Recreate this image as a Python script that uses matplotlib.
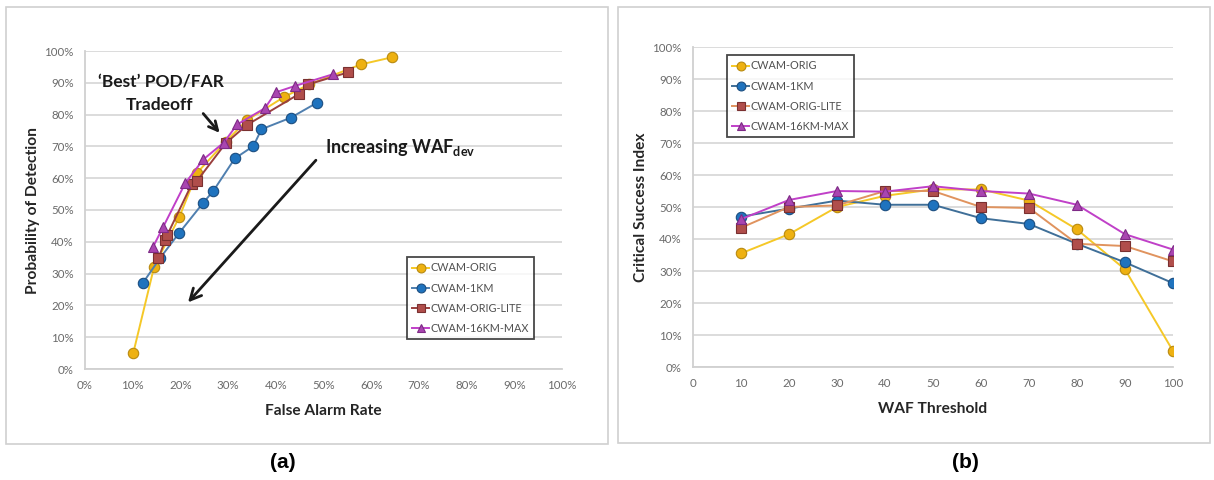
import matplotlib
matplotlib.use("Agg")
import matplotlib.pyplot as plt
from matplotlib.patches import Rectangle
from matplotlib.ticker import FuncFormatter

plt.rcParams['font.family'] = ['Lato', 'DejaVu Sans']

# ---- data -------------------------------------------------------------
series_names = ["CWAM-ORIG", "CWAM-1KM", "CWAM-ORIG-LITE", "CWAM-16KM-MAX"]

# (a) POD vs FAR, one point per WAF threshold (percent)
far_orig = [10.1, 14.5, 19.8, 23.5, 29.5, 34.0, 41.8, 47.0, 57.9, 64.3]
pod_orig = [4.9, 32.2, 47.9, 61.7, 71.5, 78.3, 85.6, 89.5, 95.8, 98.0]
far_1km = [12.2, 15.7, 19.7, 24.8, 26.9, 31.4, 35.3, 37.0, 43.1, 48.6]
pod_1km = [27.2, 34.8, 42.7, 52.3, 56.0, 66.2, 70.1, 75.4, 79.0, 83.7]
far_lite = [15.4, 16.8, 17.2, 22.4, 23.5, 29.5, 33.9, 44.9, 46.8, 55.2]
pod_lite = [34.8, 40.5, 42.0, 58.2, 59.2, 71.0, 76.7, 86.5, 89.5, 93.3]
far_16km = [14.3, 16.4, 21.0, 24.8, 29.1, 31.9, 37.7, 40.0, 44.0, 52.0]
pod_16km = [38.5, 44.7, 58.4, 65.9, 71.2, 76.9, 82.0, 87.0, 89.0, 92.7]

# (b) CSI vs WAF threshold (percent)
waf_threshold = [10, 20, 30, 40, 50, 60, 70, 80, 90, 100]
csi_orig = [35.5, 41.5, 50.0, 53.5, 55.5, 55.5, 52.0, 43.0, 30.5, 5.0]
csi_1km = [47.0, 49.5, 52.0, 50.7, 50.7, 46.5, 44.7, 38.5, 32.7, 26.2]
csi_lite = [43.5, 50.0, 50.5, 55.0, 55.0, 50.0, 49.7, 38.5, 37.8, 33.0]
csi_16km = [46.2, 52.2, 55.0, 54.8, 56.5, 55.0, 54.2, 50.7, 41.5, 36.7]

pct_ticks = list(range(0, 101, 10))

# ---- styles -----------------------------------------------------------
W, H = 1214, 480
styles = {
    "CWAM-ORIG":      dict(color="#F5C827", marker="o", mfc="#EEB111", mec="#B88A10", ms=7.5),
    "CWAM-1KM":       dict(color="#4F7FAF", marker="o", mfc="#1F73BE", mec="#1C4E80", ms=7.5),
    "CWAM-ORIG-LITE": dict(color="#A24A48", marker="s", mfc="#B04E4B", mec="#7A3030", ms=6.5),
    "CWAM-16KM-MAX":  dict(color="#C040C8", marker="^", mfc="#A945B0", mec="#7E2A86", ms=6.5),
}

fig = plt.figure(figsize=(W / 100, H / 100), dpi=100)
fig.patch.set_facecolor("white")


def px_axes(left, top, right, bottom):
    return fig.add_axes([left / W, 1 - bottom / H, (right - left) / W, (bottom - top) / H])


# panel frames
for (x0, y0, x1, y1) in [(6, 7, 608, 444), (618, 7, 1210, 443)]:
    fig.patches.append(Rectangle((x0 / W, 1 - y1 / H), (x1 - x0) / W, (y1 - y0) / H,
                                 transform=fig.transFigure, fill=False,
                                 edgecolor="#D0D0D0", linewidth=1.2))

tick_color = "#6A6A6A"
grid_color = "#D9D9D9"


def style_axes(ax):
    ax.set_facecolor("white")
    for s in ["top", "right"]:
        ax.spines[s].set_visible(False)
    for s in ["left", "bottom"]:
        ax.spines[s].set_color("#D0D0D0")
        ax.spines[s].set_linewidth(1.3)
    ax.grid(axis="y", color=grid_color, linewidth=1.3)
    ax.set_axisbelow(True)
    ax.tick_params(length=0, labelsize=8.3, colors=tick_color, pad=8)
    ax.set_ylim(0, 100)
    ax.set_yticks(pct_ticks)
    ax.yaxis.set_major_formatter(FuncFormatter(lambda v, p: f"{int(v)}%"))


def plot_series(ax, xs, ys, name, line_color=None):
    st = dict(styles[name])
    if line_color:
        st["color"] = line_color
    ax.plot(xs, ys, color=st["color"], lw=1.4, marker=st["marker"], ms=st["ms"],
            mfc=st["mfc"], mec=st["mec"], mew=0.8, label=name)


def add_legend(ax, loc, anchor):
    leg = ax.legend(loc=loc, bbox_to_anchor=anchor, fontsize=7.8, frameon=True,
                    fancybox=False, edgecolor="#1A1A1A", handlelength=1.5,
                    handletextpad=0.15, labelspacing=0.85, borderpad=0.5,
                    borderaxespad=0, markerscale=0.85)
    leg.get_frame().set_linewidth(1.3)
    for t in leg.get_texts():
        t.set_color("#505050")


label_kw = dict(fontsize=11.2, fontweight="bold", color="#262626")

# ---- (a) ---------------------------------------------------------------
ax1 = px_axes(85, 51, 562, 369)
style_axes(ax1)
ax1.set_xlim(0, 100)
ax1.set_xticks(pct_ticks)
ax1.xaxis.set_major_formatter(FuncFormatter(lambda v, p: f"{int(v)}%"))
plot_series(ax1, far_orig, pod_orig, "CWAM-ORIG")
plot_series(ax1, far_1km, pod_1km, "CWAM-1KM")
plot_series(ax1, far_lite, pod_lite, "CWAM-ORIG-LITE", line_color="#9A3F3D")
plot_series(ax1, far_16km, pod_16km, "CWAM-16KM-MAX")
ax1.set_xlabel("False Alarm Rate", labelpad=9, **label_kw)
ax1.set_ylabel("Probability of Detection", labelpad=3, **label_kw)
add_legend(ax1, "upper left", ((407 - 85) / (562 - 85), (369 - 257) / (369 - 51)))

ax1.text(15.9, 90.4, "\u2018Best\u2019 POD/FAR", fontsize=12.5, fontweight="bold",
         color="#1A1A1A", ha="center", va="center")
ax1.text(15.7, 83.0, "Tradeoff", fontsize=12.5, fontweight="bold",
         color="#1A1A1A", ha="center", va="center")
ax1.annotate("", xy=(28.6, 73.6), xytext=(24.4, 81.0),
             arrowprops=dict(arrowstyle="->", color="#1A1A1A", lw=2.0,
                             mutation_scale=16))
ax1.text(50.3, 69.8, r"Increasing WAF$_{\mathregular{dev}}$", fontsize=13,
         fontweight="bold", color="#1A1A1A", ha="left", va="center")
ax1.annotate("", xy=(21.2, 20.3), xytext=(48.8, 66.3),
             arrowprops=dict(arrowstyle="->", color="#1A1A1A", lw=2.0,
                             mutation_scale=20))

# ---- (b) ---------------------------------------------------------------
ax2 = px_axes(693, 47, 1173, 367)
style_axes(ax2)
ax2.set_xlim(0, 100)
ax2.set_xticks(pct_ticks)
plot_series(ax2, waf_threshold, csi_orig, "CWAM-ORIG")
plot_series(ax2, waf_threshold, csi_1km, "CWAM-1KM", line_color="#3F6F98")
plot_series(ax2, waf_threshold, csi_lite, "CWAM-ORIG-LITE", line_color="#E0935E")
plot_series(ax2, waf_threshold, csi_16km, "CWAM-16KM-MAX")
ax2.set_xlabel("WAF Threshold", labelpad=9, **label_kw)
ax2.set_ylabel("Critical Success Index", labelpad=3, **label_kw)
add_legend(ax2, "upper left", ((727 - 693) / (1173 - 693), (367 - 55) / (367 - 47)))

# panel captions
fig.text(283 / W, 1 - 462 / H, "(a)", fontsize=15, fontweight="bold",
         family=["Liberation Sans", "DejaVu Sans"], ha="center", va="center")
fig.text(965 / W, 1 - 462 / H, "(b)", fontsize=15, fontweight="bold",
         family=["Liberation Sans", "DejaVu Sans"], ha="center", va="center")

fig.savefig("out.png", dpi=100, facecolor="white")
